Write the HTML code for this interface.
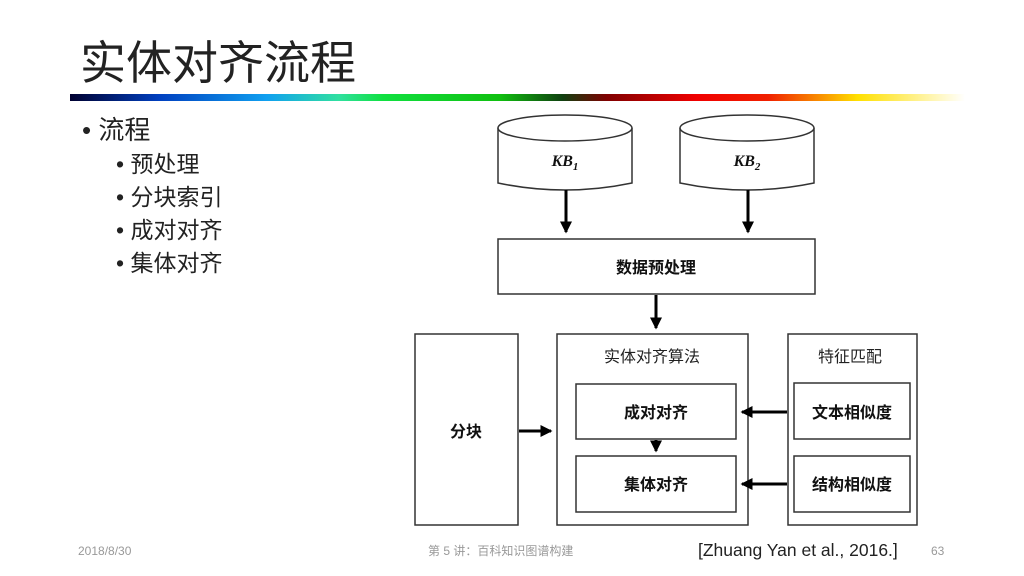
<!DOCTYPE html><html><head><meta charset="utf-8"><style>body{margin:0;width:1024px;height:576px;background:#fff;overflow:hidden;font-family:"Liberation Sans","Noto Sans CJK SC",sans-serif}</style></head><body>
<svg width="1024" height="576" xmlns="http://www.w3.org/2000/svg" style="position:absolute;left:0;top:0">
<defs><linearGradient id="g" x1="0" x2="1"><stop offset="0" stop-color="#000030"/><stop offset=".1" stop-color="#0040c0"/><stop offset=".22" stop-color="#10a0f0"/><stop offset=".3" stop-color="#30e0a0"/><stop offset=".35" stop-color="#10e040"/><stop offset=".48" stop-color="#10c010"/><stop offset=".55" stop-color="#104010"/><stop offset=".6" stop-color="#800000"/><stop offset=".7" stop-color="#f00000"/><stop offset=".78" stop-color="#f02000"/><stop offset=".88" stop-color="#ffe000"/><stop offset="1" stop-color="#fff"/></linearGradient>
<marker id="a" markerWidth="4" markerHeight="4" refX="3.5" refY="2" orient="auto"><path d="M0,0L4,2L0,4z" fill="#000"/></marker></defs>
<text x="80" y="79" font-size="46" fill="#222">实体对齐流程</text>
<rect x="70" y="94" width="895" height="7" fill="url(#g)"/>
<g font-size="26" fill="#222"><text x="82" y="139">• 流程</text></g>
<g font-size="23" fill="#222"><text x="116" y="172">• 预处理</text><text x="116" y="205">• 分块索引</text><text x="116" y="238">• 成对对齐</text><text x="116" y="271">• 集体对齐</text></g>
<g stroke="#333" stroke-width="1.5" fill="#fff">
<path d="M498,128 v55 q67,14 134,0 v-55"/><ellipse cx="565" cy="128" rx="67" ry="13"/>
<path d="M680,128 v55 q67,14 134,0 v-55"/><ellipse cx="747" cy="128" rx="67" ry="13"/>
<rect x="498" y="239" width="317" height="55"/>
<rect x="415" y="334" width="103" height="191"/><rect x="557" y="334" width="191" height="191"/><rect x="788" y="334" width="129" height="191"/>
<rect x="576" y="384" width="160" height="55"/><rect x="576" y="456" width="160" height="56"/>
<rect x="794" y="383" width="116" height="56"/><rect x="794" y="456" width="116" height="56"/>
</g>
<g stroke="#000" stroke-width="3" marker-end="url(#a)">
<line x1="566" y1="190" x2="566" y2="232"/><line x1="748" y1="190" x2="748" y2="232"/>
<line x1="656" y1="295" x2="656" y2="328"/><line x1="519" y1="431" x2="551" y2="431"/>
<line x1="656" y1="440" x2="656" y2="451"/><line x1="787" y1="412" x2="742" y2="412"/><line x1="787" y1="484" x2="742" y2="484"/>
</g>
<g font-size="16" font-weight="bold" fill="#111" text-anchor="middle">
<text x="565" y="166" font-style="italic" font-family="Liberation Serif,serif">KB<tspan font-size="11" dy="4">1</tspan></text>
<text x="747" y="166" font-style="italic" font-family="Liberation Serif,serif">KB<tspan font-size="11" dy="4">2</tspan></text>
<text x="656" y="273">数据预处理</text><text x="466" y="437">分块</text>
<text x="656" y="418">成对对齐</text><text x="656" y="490">集体对齐</text>
<text x="852" y="418">文本相似度</text><text x="852" y="490">结构相似度</text>
</g>
<g font-size="16" fill="#222" text-anchor="middle"><text x="652" y="362">实体对齐算法</text><text x="850" y="362">特征匹配</text></g>
<g font-size="12" fill="#999"><text x="78" y="555">2018/8/30</text><text x="428" y="555">第 5 讲：百科知识图谱构建</text><text x="931" y="555">63</text></g>
<text x="698" y="556" font-size="17.5" fill="#222">[Zhuang Yan et al., 2016.]</text>
</svg></body></html>
